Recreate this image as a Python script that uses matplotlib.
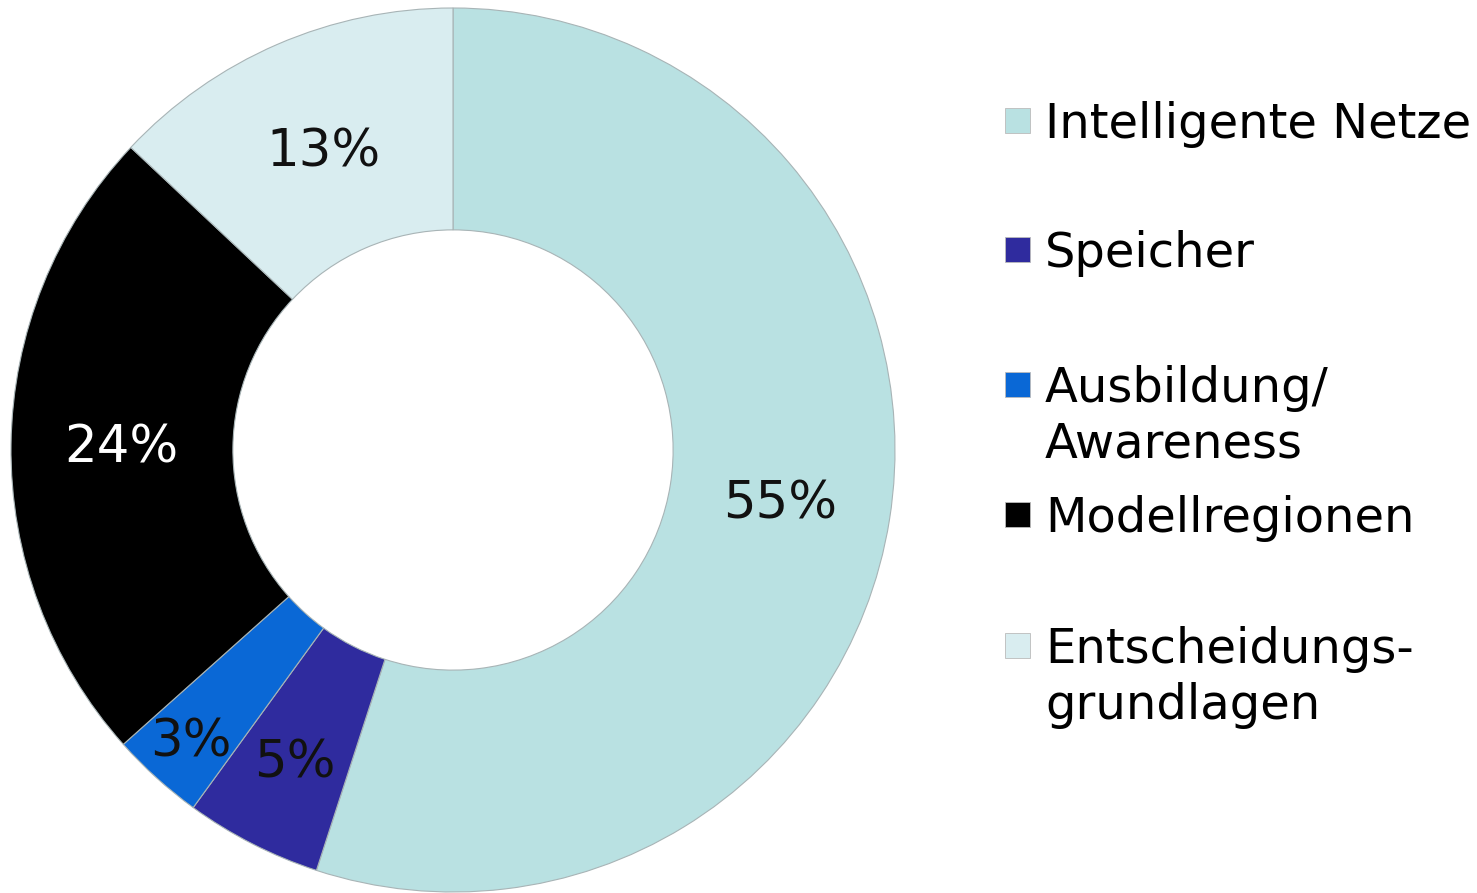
import matplotlib
matplotlib.use("Agg")
import matplotlib.pyplot as plt
from matplotlib.patches import Rectangle
import numpy as np

plt.rcParams['font.family'] = ['DejaVu Sans']

categories = ["Intelligente Netze", "Speicher", "Ausbildung/\nAwareness",
              "Modellregionen", "Entscheidungs-\ngrundlagen"]
values = [55, 5, 3.4, 23.6, 13]
pct_labels = ["55%", "5%", "3%", "24%", "13%"]
colors = ["#B9E1E2", "#2F2B9E", "#0A68D6", "#000000", "#D9EDF0"]
label_colors = ["#111111", "#111111", "#111111", "#FFFFFF", "#111111"]
label_radius = [0.75, 0.79, 0.885, 0.75, 0.74]

W, H = 1477, 893
fig = plt.figure(figsize=(W / 100, H / 100), dpi=100)

cx, cy, R = 453, 450, 442
ax = fig.add_axes([(cx - R) / W, (H - cy - R) / H, 2 * R / W, 2 * R / H])
wedges, _ = ax.pie(values, colors=colors, startangle=90, counterclock=False,
                   radius=1.0,
                   wedgeprops=dict(width=0.502, edgecolor="#A8B4B6", linewidth=0.8))
ax.set_xlim(-1.0, 1.0)
ax.set_ylim(-1.0, 1.0)
ax.set_aspect('equal')
ax.axis('off')

for w, lab, lc, r in zip(wedges, pct_labels, label_colors, label_radius):
    ang = np.deg2rad((w.theta1 + w.theta2) / 2)
    ax.text(r * np.cos(ang), r * np.sin(ang) + 0.006, lab, color=lc, fontsize=37,
            ha='center', va='center_baseline')

# legend drawn manually
baselines = [138, 267, 402, 532, 663]
line_gap = 56
for cat, col, yb in zip(categories, colors, baselines):
    fig.patches.append(Rectangle((1005 / W, 1 - (yb - 5) / H), 25 / W, 25 / H,
                                 transform=fig.transFigure, facecolor=col,
                                 edgecolor="#BBBBBB", linewidth=0.6))
    for i, line in enumerate(cat.split("\n")):
        fig.text(1045 / W, 1 - (yb + i * line_gap) / H, line, fontsize=34.6,
                 ha='left', va='baseline', color='black')

fig.savefig("out.png", dpi=100)
